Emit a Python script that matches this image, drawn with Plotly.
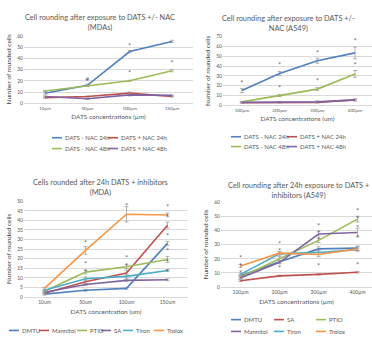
import plotly.graph_objects as go

# ---------------------------------------------------------------- data
# A: MDA cells, DATS +/- NAC
mda_conc = ["10µm", "50µm", "100µm", "150µm"]
nac_names = ["DATS - NAC 24h", "DATS + NAC 24h", "DATS - NAC 48h", "DATS + NAC 48h"]
mda_minus24 = [9, 16, 46, 55]
mda_plus24 = [5, 6, 9, 6]
mda_minus48 = [11, 15.5, 20, 29]
mda_plus48 = [6, 4, 7.5, 7]
mda_minus24_err = [1, 1, 1, 1]
mda_plus24_err = [0.5, 0.5, 1, 0.5]
mda_minus48_err = [0.5, 0.5, 0.5, 1]
mda_plus48_err = [0.5, 0.5, 1, 0.5]
mda_sig_x = ["50µm", "100µm", "100µm", "150µm", "150µm"]
mda_sig_y = [21, 51, 27, 62.5, 36]
mda_sig_txt = ["#", "*", "*", "*", "*"]

# B: A549 cells, DATS +/- NAC
a549_conc = ["100µm", "200µm", "300µm", "400µm"]
a549_minus24 = [15, 32.5, 45.5, 53.5]
a549_plus24 = [2.5, 3, 3, 5.5]
a549_minus48 = [3.5, 10, 16.5, 32]
a549_plus48 = [3, 3, 3.5, 5.5]
a549_minus24_err = [2, 2, 2.5, 6]
a549_plus24_err = [0.5, 0.5, 0.5, 1]
a549_minus48_err = [0.5, 1, 1.5, 3.5]
a549_plus48_err = [0.5, 0.5, 1, 1]
a549_sig_x = ["100µm", "200µm", "200µm", "300µm", "300µm", "400µm", "400µm"]
a549_sig_y = [23.5, 41, 18.5, 54, 25.5, 66, 41]

# C: MDA cells, DATS + inhibitors (24h)
mdai_conc = ["10um", "50um", "100um", "150um"]
mdai_names = ["DMTU", "Mannitol", "PTIO", "SA", "Tiron", "Trolox"]
mdai_dmtu = [1.5, 3.5, 4.5, 28]
mdai_mannitol = [2, 8, 12.5, 37.5]
mdai_ptio = [3, 13, 15.8, 19.6]
mdai_sa = [2.5, 6.5, 8.7, 9]
mdai_tiron = [3.5, 9.5, 10.8, 13.8]
mdai_trolox = [4.5, 24.3, 43.2, 42.8]
mdai_dmtu_err = [0.5, 0.5, 0.5, 1]
mdai_mannitol_err = [0.5, 1, 1.5, 1.5]
mdai_ptio_err = [0.5, 1, 1, 1.5]
mdai_sa_err = [0.5, 0.5, 0.5, 0.5]
mdai_tiron_err = [0.5, 1, 1, 0.5]
mdai_trolox_err = [0.5, 2, 4, 1]
mdai_sig_x = ["50um"] * 3 + ["100um"] * 3 + ["150um"] * 6
mdai_sig_y = [28.5, 17.5, 13.5, 47.5, 20.5, 16.5, 47, 42, 32, 24, 18.5, 13.5]

# D: A549 cells, DATS + inhibitors (24h)
a549i_conc = ["100µm", "200µm", "300µm", "400µm"]
a549i_names = ["DMTU", "SA", "PTIO", "Mannitol", "Tiron", "Trolox"]
a549i_dmtu = [8, 18, 27, 27.5]
a549i_sa = [4.5, 8, 9, 10.5]
a549i_ptio = [7, 20, 33, 48]
a549i_mannitol = [6.5, 17.5, 37.5, 38.5]
a549i_tiron = [9, 23.5, 24.5, 26.5]
a549i_trolox = [15, 24, 23, 27]
a549i_dmtu_err = [1, 1, 1.5, 1.5]
a549i_sa_err = [0.5, 0.5, 0.5, 0.5]
a549i_ptio_err = [1, 1.5, 1.5, 2]
a549i_mannitol_err = [1, 1, 1.5, 3]
a549i_tiron_err = [1, 1.5, 1.5, 1]
a549i_trolox_err = [1, 1, 1.5, 1.5]
a549i_sig_x = ["100µm"] * 3 + ["200µm"] * 3 + ["300µm"] * 4 + ["400µm"] * 5
a549i_sig_y = [21, 15.5, 10, 30.5, 25.5, 13.5, 43.5, 38.5, 33.5, 15, 54, 48, 42, 35, 16]

# ---------------------------------------------------------------- style
BLUE, RED, GREEN = "#4F81BD", "#C0504D", "#9BBB59"
PURPLE, TEAL, ORANGE = "#8064A2", "#4BACC6", "#F79646"
FONT = "Lato"
TXT = "#595959"
GRID = "#D9D9D9"
W, H = 372, 360


def px(x):
    return x / W


def py(y):
    return 1 - y / H


fig = go.Figure()


def add_series(xs, ys, errs, color, ax):
    fig.add_trace(go.Scatter(
        x=xs, y=ys, mode="lines", line=dict(color=color, width=1.6),
        error_y=dict(type="data", array=errs, color="#A0A0A0", thickness=0.8, width=2),
        xaxis="x" + ax, yaxis="y" + ax, showlegend=False, hoverinfo="skip"))


def add_marks(xs, ys, ax, texts=None):
    fig.add_trace(go.Scatter(
        x=xs, y=ys, mode="text", text=texts or ["*"] * len(xs),
        textfont=dict(family="DejaVu Sans", size=5.5, color="#505050"),
        xaxis="x" + ax, yaxis="y" + ax, showlegend=False, hoverinfo="skip"))


# panel A
for ys, es, c in [(mda_minus24, mda_minus24_err, BLUE), (mda_plus24, mda_plus24_err, RED),
                  (mda_minus48, mda_minus48_err, GREEN), (mda_plus48, mda_plus48_err, PURPLE)]:
    add_series(mda_conc, ys, es, c, "")
add_marks(mda_sig_x, mda_sig_y, "", mda_sig_txt)

# panel B
for ys, es, c in [(a549_minus24, a549_minus24_err, BLUE), (a549_plus24, a549_plus24_err, RED),
                  (a549_minus48, a549_minus48_err, GREEN), (a549_plus48, a549_plus48_err, PURPLE)]:
    add_series(a549_conc, ys, es, c, "2")
add_marks(a549_sig_x, a549_sig_y, "2")

# panel C
mdai_colors = [BLUE, RED, GREEN, PURPLE, TEAL, ORANGE]
for ys, es, c in zip([mdai_dmtu, mdai_mannitol, mdai_ptio, mdai_sa, mdai_tiron, mdai_trolox],
                     [mdai_dmtu_err, mdai_mannitol_err, mdai_ptio_err, mdai_sa_err,
                      mdai_tiron_err, mdai_trolox_err], mdai_colors):
    add_series(mdai_conc, ys, es, c, "3")
add_marks(mdai_sig_x, mdai_sig_y, "3")

# panel D
a549i_colors = [BLUE, RED, GREEN, PURPLE, TEAL, ORANGE]
for ys, es, c in zip([a549i_dmtu, a549i_sa, a549i_ptio, a549i_mannitol, a549i_tiron, a549i_trolox],
                     [a549i_dmtu_err, a549i_sa_err, a549i_ptio_err, a549i_mannitol_err,
                      a549i_tiron_err, a549i_trolox_err], a549i_colors):
    add_series(a549i_conc, ys, es, c, "4")
add_marks(a549i_sig_x, a549i_sig_y, "4")


def xax(domain, xrange, size, title, standoff):
    return dict(domain=domain, type="category", range=xrange, showgrid=False,
                showline=True, linecolor=GRID, linewidth=1, ticks="",
                tickfont=dict(family=FONT, size=size, color=TXT),
                title=dict(text=title, font=dict(family=FONT, size=6.5, color=TXT),
                           standoff=standoff), fixedrange=True)


def yax(domain, yrange, dtick, anchor):
    return dict(domain=domain, range=yrange, dtick=dtick, showgrid=True,
                gridcolor=GRID, gridwidth=1, zeroline=False, showline=False,
                ticks="", anchor=anchor,
                tickfont=dict(family=FONT, size=5, color=TXT),
                title=dict(text="Number of rounded cells",
                           font=dict(family=FONT, size=6.5, color="#404040"), standoff=4),
                fixedrange=True)


fig.update_layout(
    width=W, height=H, margin=dict(l=0, r=0, t=0, b=0),
    paper_bgcolor="white", plot_bgcolor="white", showlegend=False,
    xaxis=xax([px(24), px(193)], [-0.5, 3.5], 4.5, "DATS concentrations (µm)", 4),
    yaxis=yax([py(102), py(33)], [0, 60.3], 10, "x"),
    xaxis2=dict(xax([px(223), 1.0], [-0.5, 3.45], 4.5, "DATS concentrations (um)", 4), anchor="y2"),
    yaxis2=yax([py(104), py(34)], [0, 70.3], 10, "x2"),
    xaxis3=dict(xax([px(24), px(188)], [-0.5, 3.5], 5, "DATS concentration (um)", 5), anchor="y3"),
    yaxis3=yax([py(299), py(201)], [0, 50.3], 5, "x3"),
    xaxis4=dict(xax([px(221), 1.0], [-0.5, 3.37], 5, "DATS concentrations (µm)", 5), anchor="y4"),
    yaxis4=yax([py(289), py(202)], [0, 60.3], 10, "x4"),
)

# panel titles
titles = [
    ("Cell rounding after exposure to DATS +/- NAC<br>(MDAs)", 100, 8),
    ("Cell rounding after exposure to DATS +/-<br>NAC (A549)", 288, 9),
    ("Cells rounded after 24h DATS + inhibitors<br>(MDA)", 100, 176),
    ("Cell rounding after 24h exposure to DATS +<br>inhibitors (A549)", 298, 179),
]
for text, cx, top in titles:
    fig.add_annotation(text=text, x=px(cx), y=py(top), xref="paper", yref="paper",
                       xanchor="center", yanchor="top", showarrow=False,
                       font=dict(family=FONT, size=7.4, color=TXT))

# legends: short coloured line followed by the series name
legend_entries = [
    # (name, colour, line start x, row y)
    (nac_names[0], BLUE, 52, 137), (nac_names[1], RED, 108, 137),
    (nac_names[2], GREEN, 52, 148), (nac_names[3], PURPLE, 108, 148),
    (nac_names[0], BLUE, 231, 136), (nac_names[1], RED, 287, 136),
    (nac_names[2], GREEN, 231, 146), (nac_names[3], PURPLE, 287, 146),
]
for name, c, x0 in zip(mdai_names, mdai_colors, [9, 39, 77, 101, 123, 154]):
    legend_entries.append((name, c, x0, 333))
col4 = [231, 274, 316]
for i, (name, c) in enumerate(zip(a549i_names, a549i_colors)):
    legend_entries.append((name, c, col4[i % 3], 322 if i < 3 else 334))

for name, c, x0, y0 in legend_entries:
    fig.add_shape(type="line", xref="paper", yref="paper",
                  x0=px(x0), x1=px(x0 + 10), y0=py(y0), y1=py(y0),
                  line=dict(color=c, width=1.6))
    fig.add_annotation(text=name, x=px(x0 + 10.5), y=py(y0), xref="paper", yref="paper",
                       xanchor="left", yanchor="middle", showarrow=False,
                       font=dict(family=FONT, size=6, color=TXT))

fig.write_html("out.html")
